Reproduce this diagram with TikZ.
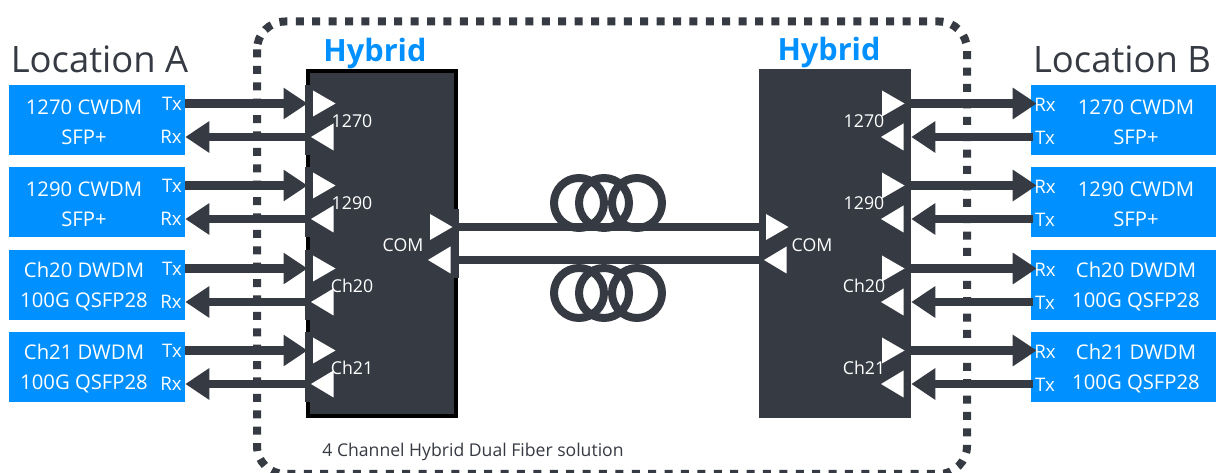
\documentclass[tikz,border=0pt]{standalone}
\usepackage{fontspec}
\setmainfont{Open Sans}
\usetikzlibrary{arrows.meta,positioning,calc}
\definecolor{hybDark}{HTML}{363A43}
\definecolor{sfpBlue}{HTML}{0090FF}
\tikzstyle{sfpbox} = [fill=sfpBlue,inner sep=0pt,minimum width=132pt,minimum height=52.5pt]
\tikzstyle{sfptext} = [text=white,font=\fontsize{15.2}{22.5}\selectfont,align=center,inner sep=0pt]
\tikzstyle{porttext} = [text=white,font=\fontsize{14}{16}\selectfont,inner sep=0pt]
\tikzstyle{chantext} = [text=white,font=\fontsize{13.3}{16}\selectfont,inner sep=0pt]
\tikzstyle{hybbox} = [fill=hybDark,inner sep=0pt,minimum width=114pt,minimum height=261.75pt]
\tikzstyle{hybtitle} = [text=sfpBlue,font=\fontsize{23}{27}\selectfont\bfseries,inner sep=0pt]
\tikzstyle{loctext} = [text=hybDark,font=\fontsize{27.3}{32}\selectfont,inner sep=0pt]
\tikzstyle{fiber} = [draw=hybDark,line width=6.5pt]
\tikzstyle{link} = [fiber,-{Triangle[length=18pt,width=22.5pt]}]
\tikzset{
  inR/.pic={\fill[white] (-11,-13) -- (11.5,0) -- (-11,13) -- cycle;},
  inL/.pic={\fill[white] (11,-13.5) -- (-11.5,0) -- (11,13.5) -- cycle;}
}

\begin{document}
\begin{tikzpicture}[x=0.75pt,y=-0.75pt]
\clip (0,0) rectangle (1218,473);
\fill[white] (0,0) rectangle (1218,473);

% solution border
\draw[hybDark,line width=6pt,dash pattern=on 6pt off 6.3pt,rounded corners=21pt] (257,21.5) rectangle (967,474);

\node (locA) [loctext] at (99.5,59) {Location A};
\node (locB) [loctext] at (1122,59) {Location B};
\node (hybA) [hybbox,draw=black,line width=3pt,minimum width=111pt,minimum height=258.75pt] at (381.5,243.5) {};
\node (hybB) [hybbox] at (835,243.5) {};
\node (titleA) [hybtitle] at (375,54) {Hybrid};
\node (titleB) [hybtitle] at (829,53) {Hybrid};
\node (note) [text=hybDark,font=\fontsize{13.2}{16}\selectfont,inner sep=0pt] at (473,452) {4 Channel Hybrid Dual Fiber solution};

% the COM side of the left hybrid
\fill[hybDark] (453,209) rectangle (459,278);

% fiber between the hybrids
\coordinate (fibTopA) at (hybA.east |- 0,227);
\coordinate (fibBotA) at (hybA.east |- 0,260);
\draw[fiber] (fibTopA) -- (fibTopA -| hybB.west);
\draw[fiber] (fibBotA) -- (fibBotA -| hybB.west);
\foreach \cy in {203,293} {
  \foreach \cx in {579,604,637}
    \draw[hybDark,line width=6pt] (\cx,\cy) circle [radius=18.75pt];
}

\pic at (441,227) {inR};
\pic at (439.5,260) {inL};
\pic at (777,227) {inR};
\pic at (775.5,260) {inL};
\node (comA) [chantext] at (403,245) {COM};
\node (comB) [chantext] at (812,245) {COM};

\foreach \i/\y/\chan/\nameone/\nametwo in {1/120/1270/1270 CWDM/SFP+,2/202/1290/1290 CWDM/SFP+,3/285/Ch20/Ch20 DWDM/100G QSFP28,4/367/Ch21/Ch21 DWDM/100G QSFP28} {
  \node (sfpA\i) [sfpbox] at (97,\y) {};
  \node (sfpB\i) [sfpbox,minimum width=138.75pt] at (1123.5,\y) {};
  \node (textA\i) [sfptext] at (84,\y+2) {\nameone\\\nametwo};
  \node (textB\i) [sfptext] at (1136,\y+2) {\nameone\\\nametwo};

  % side strip of the left hybrid
  \fill[hybDark] (305,\y-35) rectangle (309.5,\y+35);

  \coordinate (txA\i) at (sfpA\i.east |- 0,\y-16.5);
  \coordinate (rxA\i) at (sfpA\i.east |- 0,\y+17);
  \coordinate (rxB\i) at (hybB.east |- 0,\y-16.5);
  \coordinate (txB\i) at (hybB.east |- 0,\y+17);
  \draw[link] (txA\i) -- ($(txA\i -| hybA.west)+(2,0)$);
  \draw[link] (rxA\i -| hybA.west) -- (rxA\i);
  \draw[link] (rxB\i) -- ($(rxB\i -| sfpB\i.west)+(6,0)$);
  \draw[link] ($(txB\i -| sfpB\i.west)+(2,0)$) -- (txB\i);

  \node (lblTxA\i) [porttext] at (172,\y-16) {Tx};
  \node (lblRxA\i) [porttext] at (171,\y+17) {Rx};
  \node (lblRxB\i) [porttext] at (1045,\y-15) {Rx};
  \node (lblTxB\i) [porttext] at (1045,\y+18) {Tx};

  \pic at (324,\y-16.5) {inR};
  \pic at (322.5,\y+17) {inL};
  \pic at (893,\y-16.5) {inR};
  \pic at (892.5,\y+17) {inL};

  \node (chanA\i) [chantext] at (352,\y+1) {\chan};
  \node (chanB\i) [chantext] at (864,\y+1) {\chan};
}
\end{tikzpicture}
\end{document}
